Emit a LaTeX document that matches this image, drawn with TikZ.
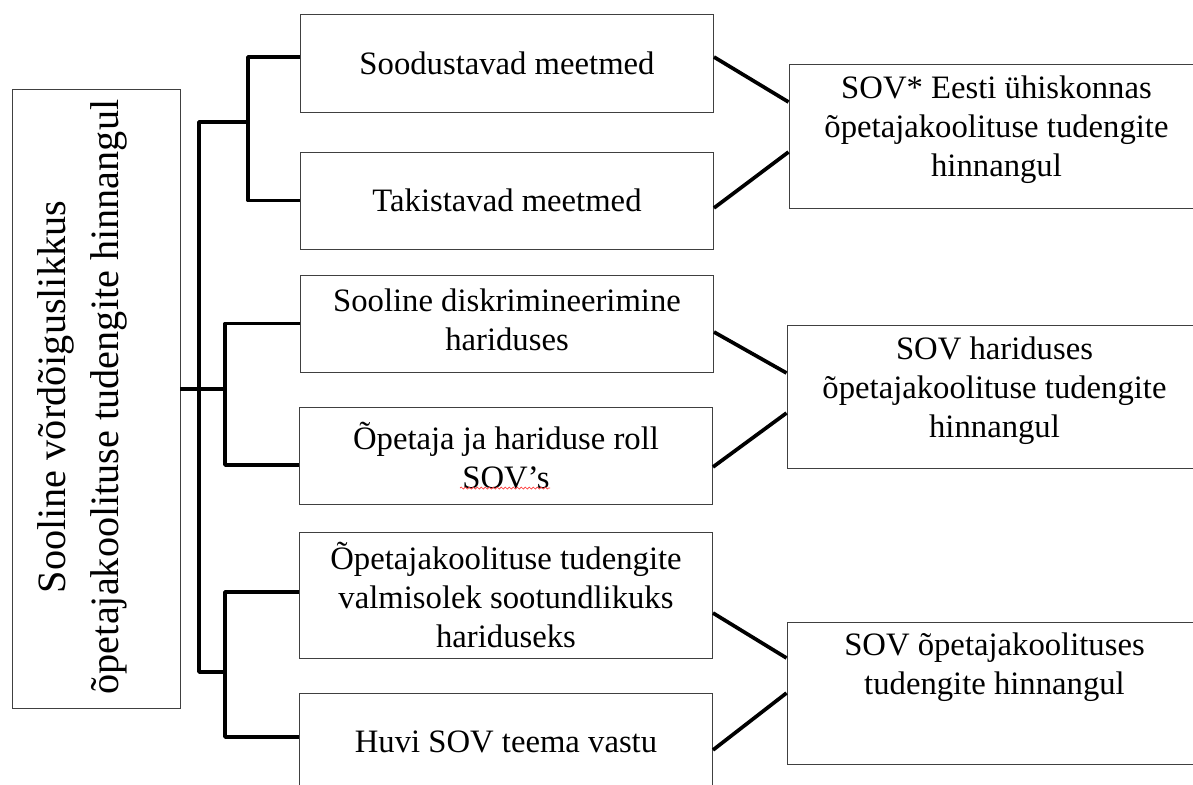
\documentclass[tikz,border=0pt]{standalone}
\usepackage{fontspec}
\setmainfont{Liberation Serif}
\usepackage{tikz}
\usetikzlibrary{decorations.pathmorphing}

\begin{document}
\begin{tikzpicture}[
    box/.style={draw=black!75,line width=0.55pt,minimum width=8.26cm,minimum height=1.94cm,inner sep=0pt},
    txt/.style={align=center,inner sep=0pt,font=\fontsize{18.6}{22.2}\selectfont},
    conn/.style={line width=2.1pt,line join=round}]
    \useasboundingbox (0,0) rectangle (23.86,-15.7);
    % left box
    \node[box,minimum width=3.36cm,minimum height=12.38cm] (L) at (1.92,-7.97) {};
    \node[inner sep=0pt,rotate=90,align=center,font=\fontsize{22.9}{30.2}\selectfont] (Lt) at (1.65,-7.94)
        {Sooline võrdõiguslikkus\\õpetajakoolituse tudengite hinnangul};
    % middle boxes
    \node[box,minimum height=1.96cm] (b1) at (10.14,-1.26) {};
    \node[box] (b2) at (10.14,-4.01) {};
    \node[box] (b3) at (10.14,-6.47) {};
    \node[box] (b4) at (10.12,-9.11) {};
    \node[box,minimum height=2.52cm] (b5) at (10.12,-11.9) {};
    \node[box] (b6) at (10.12,-14.83) {};
    \node[txt] (b1t) at (b1.center) {Soodustavad meetmed};
    \node[txt] (b2t) at (b2.center) {Takistavad meetmed};
    \node[txt] (b3t) at ([yshift=0.08cm]b3.center) {Sooline diskrimineerimine\\hariduses};
    \node[txt] (b4t) at (b4.center) {Õpetaja ja hariduse roll\\SOV’s};
    \node[txt] (b5t) at (b5.center) {Õpetajakoolituse tudengite\\valmisolek sootundlikuks\\hariduseks};
    \node[txt] (b6t) at (b6.center) {Huvi SOV teema vastu};
    % right boxes
    \node[box,minimum width=8.3cm,minimum height=2.88cm] (r1) at (19.93,-2.72) {};
    \node[box,minimum width=8.3cm,minimum height=2.86cm] (r2) at (19.89,-7.93) {};
    \node[box,minimum width=8.3cm,minimum height=2.84cm] (r3) at (19.89,-13.86) {};
    \node[txt] (r1t) at ([yshift=0.12cm]r1.center) {SOV* Eesti ühiskonnas\\õpetajakoolituse tudengite\\hinnangul};
    \node[txt] (r2t) at ([yshift=0.11cm]r2.center) {SOV hariduses\\õpetajakoolituse tudengite\\hinnangul};
    \node[txt] (r3t) at ([yshift=0.51cm]r3.center) {SOV õpetajakoolituses\\tudengite hinnangul};
    % spell check mark
    \draw[red!80,line width=0.4pt,decorate,decoration={snake,segment length=0.08cm,amplitude=0.02cm}]
        (9.2,-9.76) -- (11.0,-9.76);
    % tree on the left
    \coordinate (j1) at (4.96,-2.44);
    \coordinate (j2) at (4.5,-7.78);
    \coordinate (j3) at (4.5,-13.44);
    \coordinate (t3) at (3.98,-13.44);
    \draw[conn] ([yshift=0.12cm]b1.west) -| (j1) |- (b2.west);
    \draw[conn] (b3.west) -| (j2) |- ([yshift=-0.19cm]b4.west);
    \draw[conn] ([yshift=0.06cm]b5.west) -| (j3) |- ([yshift=0.09cm]b6.west);
    \draw[conn] (j1) -| (t3) -- (j3);
    \draw[conn] ([yshift=0.19cm]L.east) -- (j2);
    % to the right boxes
    \draw[conn] ([yshift=0.12cm]b1.east) to ([yshift=0.68cm]r1.west);
    \draw[conn] ([yshift=-0.15cm]b2.east) to ([yshift=-0.32cm]r1.west);
    \draw[conn] ([yshift=-0.17cm]b3.east) to ([yshift=0.47cm]r2.west);
    \draw[conn] ([yshift=-0.23cm]b4.east) to ([yshift=-0.33cm]r2.west);
    \draw[conn] ([yshift=-0.36cm]b5.east) to ([yshift=0.70cm]r3.west);
    \draw[conn] ([yshift=-0.17cm]b6.east) to (r3.west);
\end{tikzpicture}
\end{document}
